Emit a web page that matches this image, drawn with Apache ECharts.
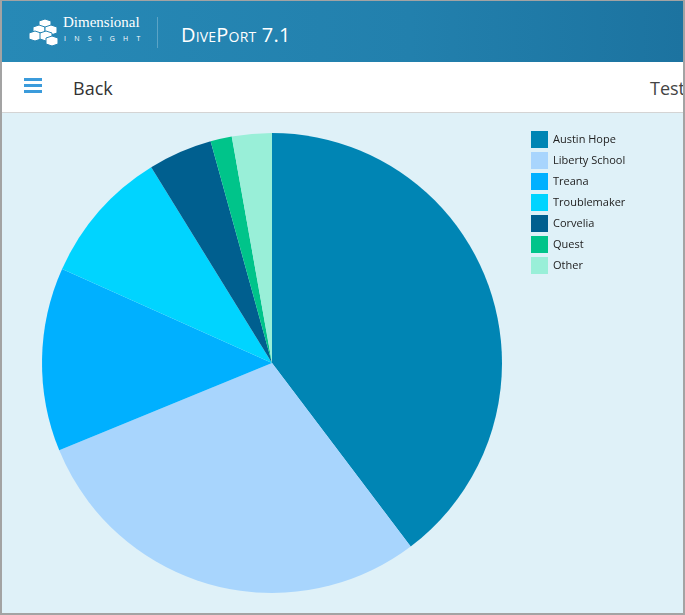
<!DOCTYPE html>
<html>
<head>
<meta charset="utf-8">
<script src="https://cdn.jsdelivr.net/npm/echarts@6/dist/echarts.min.js"></script>
<style>
  html, body { margin: 0; padding: 0; }
  body { width: 685px; height: 615px; overflow: hidden; font-family: "Open Sans", "Noto Sans", sans-serif; }
  .frame { position: absolute; left: 0; top: 0; width: 685px; height: 615px; box-sizing: border-box; border: 2px solid #a3a3a3; border-top-width: 1px; background: #dff1f8; overflow: hidden; }
  .header { position: absolute; left: 0; top: 0; width: 681px; height: 61px; background: linear-gradient(90deg, #2789b6 0%, #2280ad 60%, #1c73a0 100%); }
  .logo { position: absolute; left: 26px; top: 18px; }
  .brand { position: absolute; left: 61px; top: 13px; color: #fff; font-family: "Liberation Serif", serif; font-size: 15px; }
  .brand2 { position: absolute; left: 62px; top: 33px; color: #fff; font-size: 7px; letter-spacing: 8.2px; }
  .sep { position: absolute; left: 155px; top: 16px; width: 1px; height: 31px; background: rgba(255,255,255,0.25); }
  .title { position: absolute; left: 179px; top: 20px; color: #fff; font-size: 20px; font-variant: small-caps; letter-spacing: 0.2px; }
  .toolbar { position: absolute; left: 0; top: 61px; width: 681px; height: 50px; background: #fff; border-bottom: 1px solid #d4d4d4; }
  .burger { position: absolute; left: 22px; top: 16px; width: 18px; }
  .burger div { height: 3px; background: #3b9bdb; margin-bottom: 3px; }
  .back { position: absolute; left: 71px; top: 14px; font-size: 18px; color: #333; }
  .testl { position: absolute; left: 648px; top: 14px; font-size: 18px; color: #444; white-space: nowrap; }
  #chart { position: absolute; left: 0; top: 112px; width: 681px; height: 500px; }
</style>
</head>
<body>
<div class="frame">
  <div class="header">
    <svg class="logo" width="30" height="28" viewBox="0 0 30 28">
      <g fill="#fff" stroke="#2585b3" stroke-width="1">
        <path d="M11 2 L17 0 L23 2 L23 8 L17 10 L11 8 Z"/>
        <path d="M5 8 L11 6 L17 8 L17 14 L11 16 L5 14 Z"/>
        <path d="M17 8 L23 6 L29 8 L29 14 L23 16 L17 14 Z"/>
        <path d="M1 14 L7 12 L13 14 L13 20 L7 22 L1 20 Z"/>
        <path d="M12 14 L18 12 L24 14 L24 20 L18 22 L12 20 Z"/>
        <path d="M18 19 L24 17 L30 19 L30 25 L24 27 L18 25 Z"/>
      </g>
    </svg>
    <div class="brand">Dimensional</div>
    <div class="brand2">INSIGHT</div>
    <div class="sep"></div>
    <div class="title">DivePort 7.1</div>
  </div>
  <div class="toolbar">
    <div class="burger"><div></div><div></div><div></div></div>
    <div class="back">Back</div>
    <div class="testl">TestLab</div>
  </div>
  <div id="chart"></div>
</div>
<script>
const names = ['Austin Hope', 'Liberty School', 'Treana', 'Troublemaker', 'Corvelia', 'Quest', 'Other']
const values = [39.7, 29.1, 12.9, 9.5, 4.5, 1.5, 2.8]
const colors = ['#0085b4', '#a8d5fd', '#00b0ff', '#00d4ff', '#005f8f', '#00c48a', '#99efd8']

const chart = echarts.init(document.getElementById('chart'), null, { renderer: 'canvas' })

chart.setOption({
  animation: false,
  color: colors,
  legend: {
    orient: 'vertical',
    left: 524,
    top: 13,
    icon: 'rect',
    itemWidth: 17,
    itemHeight: 17,
    itemGap: 4,
    textStyle: { fontFamily: 'Open Sans', fontSize: 11, color: '#222' },
    data: names,
  },
  series: [
    {
      type: 'pie',
      center: [270, 250],
      radius: 230,
      startAngle: 90,
      clockwise: true,
      label: { show: false },
      labelLine: { show: false },
      itemStyle: { borderWidth: 0 },
      emphasis: { disabled: true },
      data: names.map((name, i) => ({ name, value: values[i] })),
    },
  ],
})
</script>
</body>
</html>
